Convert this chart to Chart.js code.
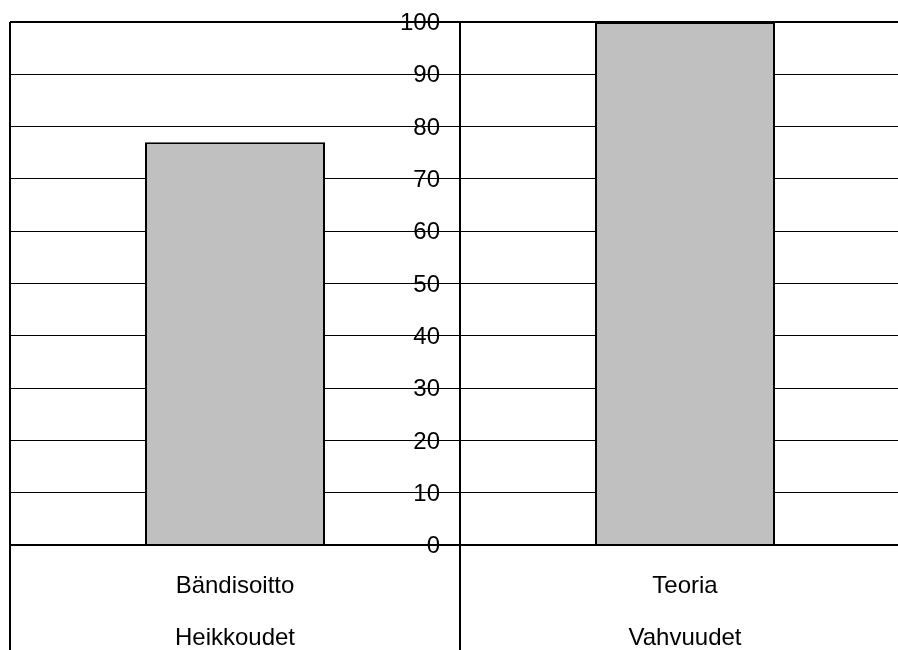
<!DOCTYPE html>
<html>
<head>
<meta charset="utf-8">
<script src="https://cdn.jsdelivr.net/npm/chart.js@4.4.0/dist/chart.umd.min.js"></script>
<style>
  html, body { margin: 0; padding: 0; background: #fff; overflow: hidden; width: 898px; height: 650px; }
  #wrap { position: absolute; left: 0; top: 0; width: 920px; height: 670px; }
</style>
</head>
<body>
<div id="wrap"><canvas id="chart"></canvas></div>
<script>
// Data
const categories = [['Bändisoitto', 'Heikkoudet'], ['Teoria', 'Vahvuudet']];
const values = [77, 100];
const yTicks = [0, 10, 20, 30, 40, 50, 60, 70, 80, 90, 100];

const font = { family: '"Liberation Sans", Arial, sans-serif', size: 24 };

new Chart(document.getElementById('chart'), {
  type: 'bar',
  data: {
    labels: categories,
    datasets: [{
      data: values,
      backgroundColor: '#c0c0c0',
      borderColor: '#000',
      borderWidth: 2,
      barPercentage: 0.4,
      categoryPercentage: 1
    }]
  },
  options: {
    responsive: true,
    maintainAspectRatio: false,
    animation: false,
    devicePixelRatio: 1,
    layout: { padding: { left: 10, top: 22, right: 10, bottom: 125 } },
    plugins: { legend: { display: false }, tooltip: { enabled: false } },
    scales: {
      x: {
        // axis sits on the zero line, separators run down past the labels
        position: { y: 0 },
        offset: true,
        grid: {
          offset: true,
          color: '#000',
          lineWidth: 2,
          tickLength: 125
        },
        border: { display: true, color: '#000', width: 2 },
        ticks: {
          color: '#000',
          font: { ...font, lineHeight: 52 / 24 },
          padding: -110,
          maxRotation: 0,
          autoSkip: false
        }
      },
      y: {
        // labels sit just left of the centre line, gridlines run over them
        position: { x: 0.5 - 20 / 450 },
        min: 0,
        max: 100,
        afterBuildTicks: (axis) => { axis.ticks = yTicks.map(v => ({ value: v })); },
        grid: {
          color: '#000',
          lineWidth: (ctx) => (ctx.tick && (ctx.tick.value === 0 || ctx.tick.value === 100)) ? 2 : 1,
          drawTicks: false
        },
        border: { display: false },
        ticks: {
          color: '#000',
          font: font,
          padding: 0,
          labelOffset: 1.5,
          z: -1
        }
      }
    }
  }
});
</script>
</body>
</html>
